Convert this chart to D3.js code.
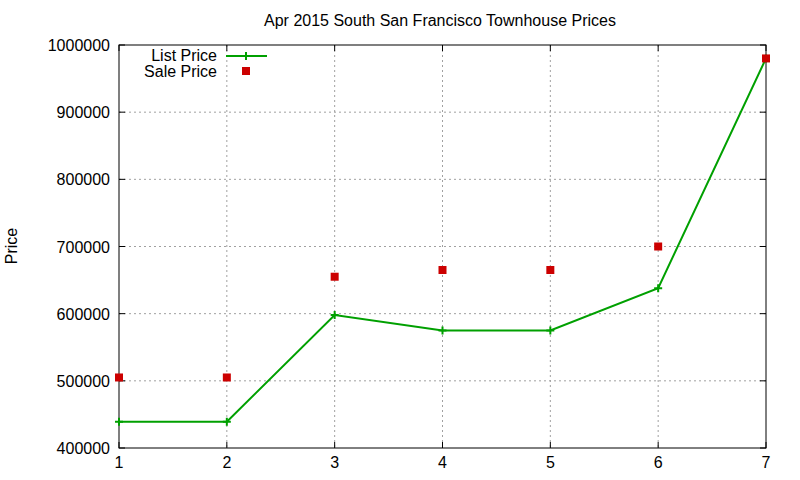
<!DOCTYPE html>
<html><head><meta charset="utf-8">
<script src="https://cdn.jsdelivr.net/npm/d3@7"></script>
<style>body{margin:0;background:#fff}text{font-family:"Liberation Sans",Arial,sans-serif}</style>
</head><body>
<script>
const months = [1, 2, 3, 4, 5, 6, 7];
const listPrice = [439000, 439000, 598000, 575000, 575000, 638000, 980000];
const salePrice = [505000, 505000, 655000, 665000, 665000, 700000, 980000];
const yTicks = [400000, 500000, 600000, 700000, 800000, 900000, 1000000];

let margin = {top: 45, right: 34, bottom: 32, left: 119},
    width = 800 - margin.left - margin.right,
    height = 480 - margin.top - margin.bottom;

let svg = d3.select("body").append("svg").attr("width", 800).attr("height", 480);
let g = svg.append("g").attr("transform", "translate(" + margin.left + "," + margin.top + ")");

let x = d3.scaleLinear().domain([1, 7]).range([0, width]);
let y = d3.scaleLinear().domain([400000, 1000000]).range([height, 0]);

// grid
g.selectAll(".gx").data(months.slice(1, -1)).enter().append("line")
    .attr("x1", d => x(d)).attr("x2", d => x(d)).attr("y1", 0).attr("y2", height)
    .attr("stroke", "#a0a0a0").attr("stroke-dasharray", "2,3");
g.selectAll(".gy").data(yTicks.slice(1, -1)).enter().append("line")
    .attr("x1", 0).attr("x2", width).attr("y1", d => y(d)).attr("y2", d => y(d))
    .attr("stroke", "#a0a0a0").attr("stroke-dasharray", "2,3");

g.append("rect").attr("width", width).attr("height", height)
    .attr("fill", "none").attr("stroke", "#000");

// ticks
g.selectAll(".tx").data(months).enter().append("text")
    .attr("x", d => x(d)).attr("y", height + 20).attr("text-anchor", "middle")
    .attr("font-size", 16).text(d => d);
g.selectAll(".ty").data(yTicks).enter().append("text")
    .attr("x", -9).attr("y", d => y(d) + 6).attr("text-anchor", "end")
    .attr("font-size", 16).text(d => d);
g.selectAll(".tky").data(yTicks).enter().append("line")
    .attr("x1", 0).attr("x2", 6).attr("y1", d => y(d)).attr("y2", d => y(d)).attr("stroke", "#000");
g.selectAll(".tky2").data(yTicks).enter().append("line")
    .attr("x1", width).attr("x2", width - 6).attr("y1", d => y(d)).attr("y2", d => y(d)).attr("stroke", "#000");
g.selectAll(".tkx").data(months).enter().append("line")
    .attr("x1", d => x(d)).attr("x2", d => x(d)).attr("y1", height).attr("y2", height - 6).attr("stroke", "#000");
g.selectAll(".tkx2").data(months).enter().append("line")
    .attr("x1", d => x(d)).attr("x2", d => x(d)).attr("y1", 0).attr("y2", 6).attr("stroke", "#000");

svg.append("text").attr("x", 440).attr("y", 26).attr("text-anchor", "middle")
    .attr("font-size", 16).text("Apr 2015 South San Francisco Townhouse Prices");
svg.append("text").attr("transform", "translate(17,246) rotate(-90)")
    .attr("text-anchor", "middle").attr("font-size", 16).text("Price");

// list price line
let line = d3.line().x((d, i) => x(months[i])).y(d => y(d));
g.append("path").datum(listPrice).attr("d", line)
    .attr("fill", "none").attr("stroke", "#00a000").attr("stroke-width", 2);
function plus(sel, cx, cy) {
    sel.append("path").attr("d", `M${cx-4},${cy}H${cx+4}M${cx},${cy-4}V${cy+4}`)
        .attr("stroke", "#00a000").attr("stroke-width", 2);
}
listPrice.forEach((v, i) => plus(g, x(months[i]), y(v)));

g.selectAll(".sale").data(salePrice).enter().append("rect")
    .attr("x", (d, i) => x(months[i]) - 4).attr("y", d => y(d) - 4)
    .attr("width", 8).attr("height", 8).attr("fill", "#cc0000");

// legend
svg.append("text").attr("x", 217).attr("y", 61).attr("text-anchor", "end")
    .attr("font-size", 16).text("List Price");
svg.append("line").attr("x1", 226).attr("x2", 267).attr("y1", 56).attr("y2", 56)
    .attr("stroke", "#00a000").attr("stroke-width", 2);
plus(svg, 246, 56);
svg.append("text").attr("x", 217).attr("y", 77).attr("text-anchor", "end")
    .attr("font-size", 16).text("Sale Price");
svg.append("rect").attr("x", 242).attr("y", 67).attr("width", 8).attr("height", 8).attr("fill", "#cc0000");
</script>
</body></html>
